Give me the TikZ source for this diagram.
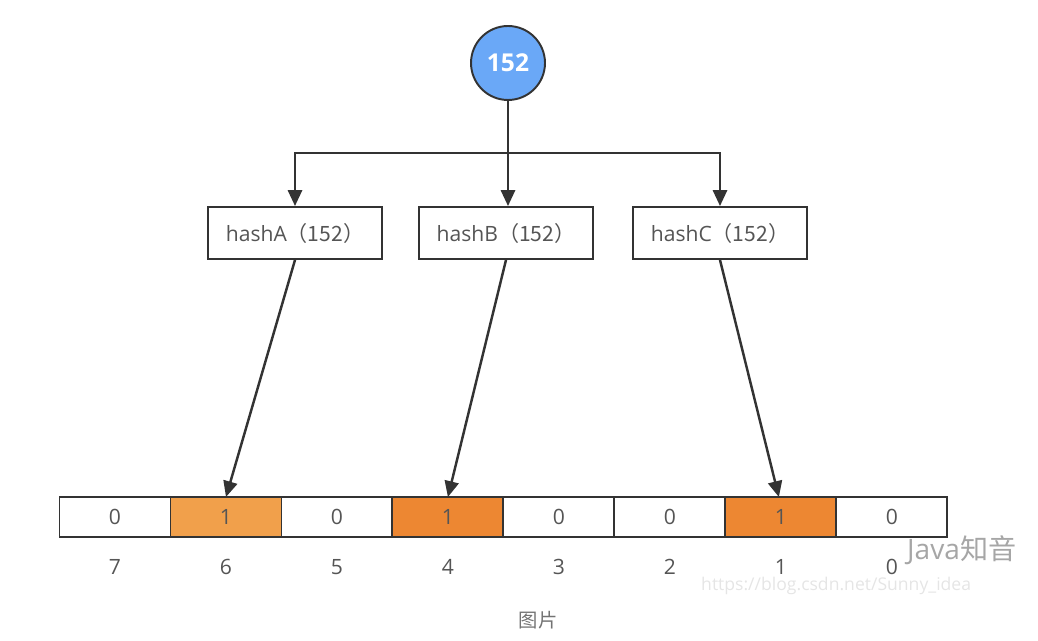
\documentclass[tikz,border=0pt]{standalone}
\usepackage{fontspec}
\setmainfont{Open Sans}
\newfontfamily\cjk{Noto Sans CJK SC}
\usepackage{xcolor}
\definecolor{nodeblue}{RGB}{106,168,247}
\definecolor{linegray}{RGB}{51,51,51}
\definecolor{textgray}{RGB}{85,85,85}
\definecolor{bitlight}{RGB}{241,160,75}
\definecolor{bitdark}{RGB}{237,135,50}
\usepackage{tikz}
\usetikzlibrary{arrows.meta,positioning}

\begin{document}
\begin{tikzpicture}[
  x=0.02cm, y=-0.02cm,
  font=\fontsize{12}{14}\selectfont,
  hashbox/.style={draw=linegray, line width=1.1pt, minimum width=3.48cm,
                  minimum height=1.04cm, text=textgray, inner sep=0pt},
  cell/.style={draw=linegray, line width=1.1pt, minimum width=2.22cm,
               minimum height=0.8cm, outer sep=0pt, inner sep=0pt, text=textgray},
  idx/.style={text=textgray},
  arr/.style={-{Triangle[length=9pt,width=8pt]}, line width=1.4pt, draw=linegray}
]
\useasboundingbox (0,0) rectangle (1038,641);

% input value
\node[circle, draw=linegray, line width=1.1pt, fill=nodeblue, minimum size=1.48cm,
      text=white, font=\fontsize{14}{16}\selectfont\bfseries] (val) at (508,63) {152};

% hash functions
\node[hashbox] (ha) at (295,233) {hashA\cjk{（}152\cjk{）}};
\node[hashbox] (hb) at (506,233) {hashB\cjk{（}152\cjk{）}};
\node[hashbox] (hc) at (720,233) {hashC\cjk{（}152\cjk{）}};

% bit array
\node[cell] (b7) at (115,517) {0};
\node[cell, right=0pt of b7, fill=bitlight] (b6) {1};
\node[cell, right=0pt of b6] (b5) {0};
\node[cell, right=0pt of b5, fill=bitdark]  (b4) {1};
\node[cell, right=0pt of b4] (b3) {0};
\node[cell, right=0pt of b3] (b2) {0};
\node[cell, right=0pt of b2, fill=bitdark]  (b1) {1};
\node[cell, right=0pt of b1] (b0) {0};
\foreach \i in {0,...,7}
  \node[idx, below=0.32cm of b\i] (l\i) {\i};

% connectors
\coordinate (split) at (508,153);
\draw[line width=1.4pt, draw=linegray] (val.south) -- (split);
\draw[arr] (split) -| (ha.north);
\draw[arr] (split) -- (split |- hb.north);
\draw[arr] (split) -| (hc.north);
\draw[arr] (ha.south) -- (b6.north);
\draw[arr] (hb.south) -- (b4.north);
\draw[arr] (hc.south) -- ([xshift=-0.04cm]b1.north);

% watermark and caption
\node[text=black!35, font=\fontsize{16}{18}\selectfont, anchor=west] (wm) at (901,550)
  {Java\cjk{知音}};
\node[text=black!10, font=\fontsize{10}{12}\selectfont, anchor=west] (url) at (695,586)
  {https://blog.csdn.net/Sunny\_idea};
\node[text=black!55, font=\fontsize{11}{13}\selectfont\cjk] (cap) at (538,620) {图片};
\end{tikzpicture}
\end{document}
